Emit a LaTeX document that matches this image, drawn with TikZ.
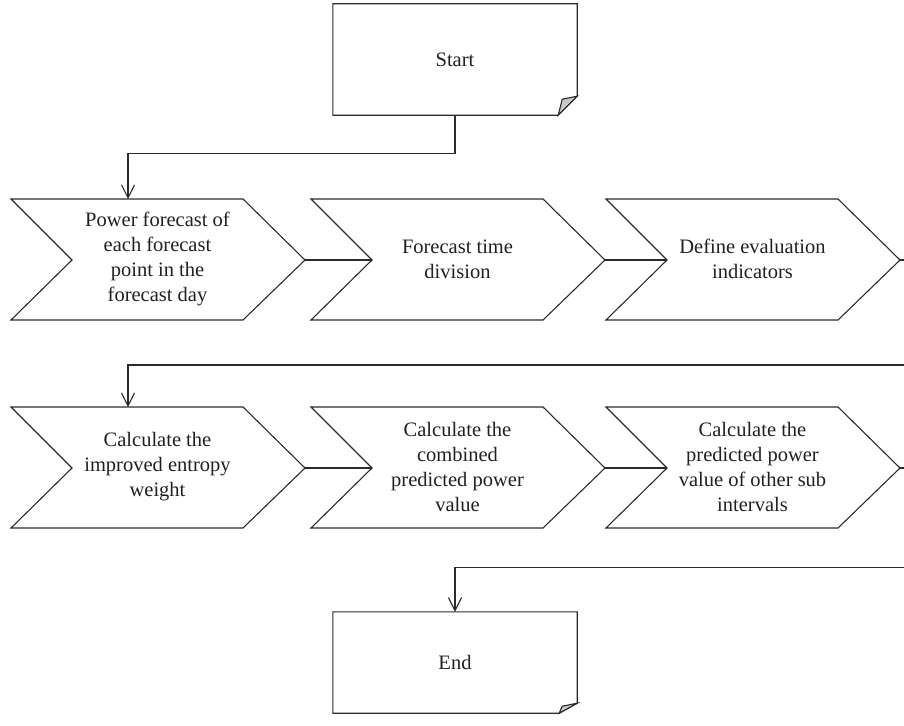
\documentclass[tikz,border=0pt]{standalone}
\usepackage{fontspec}
\setmainfont{Liberation Serif}
\usetikzlibrary{arrows.meta,calc}
\definecolor{lc}{HTML}{2B2B2B}
\definecolor{tc}{HTML}{231F20}
\definecolor{foldc}{HTML}{C8C8C8}
\begin{document}
\begin{tikzpicture}[x=1pt,y=-1pt,
  line/.style={draw=lc, line width=1.1pt, line join=miter},
  arr/.style={line, -{Straight Barb[length=13pt,width=13pt,line width=1.1pt]}},
  lbl/.style={align=center, font=\fontsize{20.5}{25}\selectfont, text=tc, inner sep=0pt},
  chev/.pic={
    \draw[line] (0,0) -- (232,0) -- (294,61) -- (232,121) -- (0,121) -- (61,61) -- cycle;
    \coordinate (-tip) at (294,61);
    \coordinate (-notch) at (61,61);
    \coordinate (-top) at (117,0);
    \coordinate (-c) at (146.5,60);
  }]
\useasboundingbox (0,0) rectangle (904,725);
\clip (0,0) rectangle (904,725);

% Start box
\node[lbl, minimum width=244pt, minimum height=111pt] (start) at (455,59.5) {Start};
\draw[line] (start.north west) -- (start.north east) -- ($(start.south east)+(0,-19)$)
  -- ($(start.south east)+(-19,0)$) -- (start.south west) -- cycle;
\filldraw[line, fill=foldc] ($(start.south east)+(-19,0)$) -- ($(start.south east)+(0,-19)$)
  -- ($(start.south east)+(-15,-16)$) -- cycle;

% Row 1
\pic (c1) at (11,199) {chev};
\pic (c2) at (311,199) {chev};
\pic (c3) at (606,199) {chev};
\node[lbl] (t1) at (c1-c) {Power forecast of\\each forecast\\point in the\\forecast day};
\node[lbl] (t2) at (c2-c) {Forecast time\\division};
\node[lbl] (t3) at (c3-c) {Define evaluation\\indicators};

% Row 2
\pic (c4) at (11,407) {chev};
\pic (c5) at (311,407) {chev};
\pic (c6) at (606,407) {chev};
\node[lbl] (t4) at (c4-c) {Calculate the\\improved entropy\\weight};
\node[lbl] (t5) at (c5-c) {Calculate the\\combined\\predicted power\\value};
\node[lbl] (t6) at (c6-c) {Calculate the\\predicted power\\value of other sub\\intervals};

% End box
\node[lbl, minimum width=244pt, minimum height=101pt] (end) at (455,662.5) {End};
\draw[line] (end.north west) -- (end.north east) -- ($(end.south east)+(0,-10)$)
  -- ($(end.south east)+(-18,0)$) -- (end.south west) -- cycle;
\filldraw[line, fill=foldc] ($(end.south east)+(-18,0)$) -- ($(end.south east)+(0,-10)$)
  -- ($(end.south east)+(-15,-7)$) -- cycle;

% Connectors
\draw[arr] (start.south) -- ++(0,38) -| (c1-top);
\draw[line] (c1-tip) -- (c2-notch);
\draw[line] (c2-tip) -- (c3-notch);
\draw[arr] (c3-tip) -- ++(20,0) |- ($(c4-top)+(0,-42)$) -- (c4-top);
\draw[line] (c4-tip) -- (c5-notch);
\draw[line] (c5-tip) -- (c6-notch);
\draw[arr] (c6-tip) -- ++(20,0) |- ($(end.north)+(0,-44)$) -- (end.north);
\end{tikzpicture}
\end{document}
